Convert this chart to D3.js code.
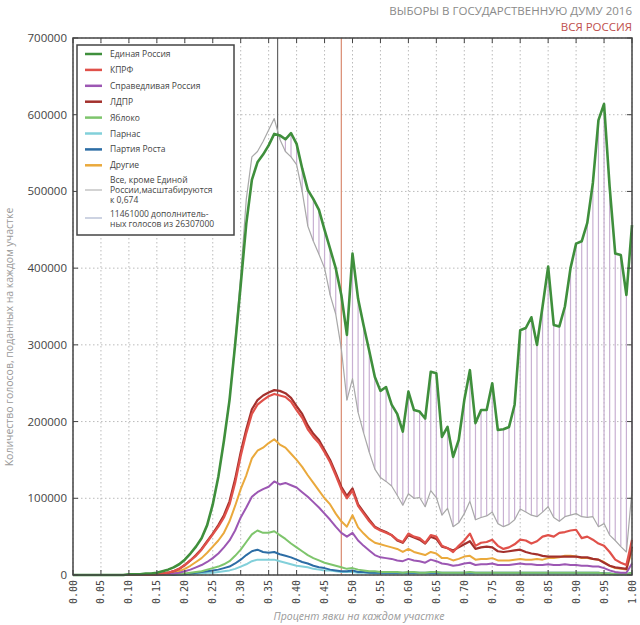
<!DOCTYPE html>
<html><head><meta charset="utf-8">
<script src="https://cdn.jsdelivr.net/npm/d3@7"></script>
<style>body{margin:0;background:#fff}svg{display:block}</style>
</head><body>
<script>
// ===== DATA (values in thousands of votes, turnout bins 0.00 .. 1.00 step 0.01) =====
const turnout = d3.range(0, 101).map(i => i / 100);
const xTickLabels = ["0.00","0.05","0.10","0.15","0.20","0.25","0.30","0.35","0.40","0.45","0.50","0.55","0.60","0.65","0.70","0.75","0.80","0.85","0.90","0.95","1.00"];
const yTickLabels = [0,100000,200000,300000,400000,500000,600000,700000];

const er = [0,0,0,0,0,0,0,0,0,0,
1,1,1,2,2,3,5,7,10,14,
20,28,37,48,65,92,128,175,228,300,
378,458,515,538,548,560,575,573,568,576,
562,530,502,490,476,450,425,400,365,313,
419,360,325,292,258,240,245,222,210,187,
239,215,213,204,265,263,180,193,154,176,
228,267,198,215,215,250,189,190,193,222,
319,322,336,300,350,402,326,324,350,400,
432,435,459,511,593,614,506,419,417,365,
456];
const scaledOthers = [0,0,0,0,0,0,0,0,0,0,
1,1,1,1,2,3,5,7,10,14,
20,28,37,48,65,92,128,175,230,305,
390,490,545,552,565,580,595,568,552,545,
535,500,455,435,418,400,365,340,295,228,
256,212,185,160,138,127,122,116,104,91,
106,100,101,89,110,101,78,87,63,68,
80,96,72,75,77,82,67,63,66,72,
86,82,78,76,82,89,75,70,76,78,
80,76,75,76,63,67,52,45,37,30,
110];
const kprf = [0,0,0,0,0,0,0,0,0,0,
0,0,0,0,0,1,2,3,5,8,
13,19,25,33,43,53,63,75,92,120,
155,185,210,222,228,233,236,234,232,226,
215,205,190,180,172,160,147,130,112,100,
110,90,80,70,62,58,55,52,46,43,
54,50,48,42,52,50,38,35,30,38,
45,54,38,42,43,46,38,34,36,40,
46,45,41,44,50,52,50,55,56,58,
59,48,50,46,41,38,30,20,16,13,
46];
const ldpr = [0,0,0,0,0,0,0,0,0,0,
0,0,0,0,0,1,2,3,5,8,
13,19,26,34,44,54,65,78,96,125,
160,190,216,228,234,238,241,240,237,231,
220,210,195,184,176,163,150,133,115,103,
113,92,82,72,63,59,56,52,45,42,
52,49,46,41,50,47,37,35,32,36,
40,44,34,36,37,36,31,30,31,32,
33,30,28,27,25,24,24,24,24,24,
24,23,23,21,20,16,12,10,9,8,
37];
const sr = [0,0,0,0,0,0,0,0,0,0,
0,0,0,0,0,0,1,1,2,3,
5,7,10,13,17,22,28,36,45,58,
75,88,102,108,112,115,122,118,120,117,
114,108,102,95,88,80,72,63,55,50,
55,45,38,32,26,23,22,21,19,18,
21,19,18,16,20,18,15,14,12,13,
15,16,13,14,14,15,13,13,13,14,
15,14,14,13,13,14,13,13,14,13,
13,12,12,11,11,9,6,4,3,3,
15];
const yabloko = [0,0,0,0,0,0,0,0,0,0,
0,0,0,0,0,0,0,0,1,1,
2,3,4,5,7,9,11,14,18,25,
33,43,53,58,55,55,57,52,47,41,
36,31,26,22,19,16,14,12,10,8,
9,7,6,5,5,4,4,4,4,3,
4,4,3,3,4,4,3,3,3,3,
3,4,3,3,3,3,3,3,3,3,
3,3,3,3,3,3,3,3,3,3,
3,3,3,3,3,2,2,1,1,1,
3];
const rost = [0,0,0,0,0,0,0,0,0,0,
0,0,0,0,0,0,0,0,0,1,
1,2,3,4,5,6,7,9,11,15,
20,26,31,33,30,29,30,27,25,23,
20,17,15,12,10,9,7,6,5,5,
6,4,4,3,3,3,3,3,3,3,
3,3,3,3,3,3,3,3,3,3,
3,3,3,3,3,3,3,3,3,3,
3,3,3,3,3,3,3,3,3,3,
3,3,3,3,3,2,2,1,1,1,
3];
const parnas = [0,0,0,0,0,0,0,0,0,0,
0,0,0,0,0,0,0,0,0,0,
1,1,2,2,3,3,4,5,6,8,
11,14,18,20,20,20,20,18,16,14,
12,11,10,8,7,6,6,5,4,4,
4,3,3,3,2,2,2,2,2,2,
2,2,2,2,2,2,2,2,2,2,
2,2,2,2,2,2,2,2,2,2,
2,2,2,2,2,2,2,2,2,2,
2,2,2,2,2,2,1,1,1,1,
2];
const markerMode = 0.366;
const markerMean = 0.48;

const partyNames = ["Единая Россия","КПРФ","Справедливая Россия","ЛДПР","Яблоко","Парнас","Партия Роста","Другие"];
const others = [0,0,0,0,0,0,0,0,0,0,
0,0,0,0,0,1,1,2,3,5,
8,12,17,22,29,37,45,55,70,90,
112,130,152,162,166,172,177,170,166,158,
150,141,130,120,110,100,92,80,70,63,
78,62,54,47,42,40,38,36,34,30,
34,30,28,26,30,28,22,22,19,21,
24,25,20,21,21,22,19,19,19,20,
21,20,20,21,20,22,22,23,25,25,
24,22,22,21,20,17,12,9,8,7,
33];

// ===== STYLE =====
const colors = {
  er:"#3f8f3c", kprf:"#e0514a", sr:"#9c57b3", ldpr:"#a3302c",
  yabloko:"#7ec56c", parnas:"#82d0da", rost:"#2c6da5", others:"#eaa93c",
  gray:"#a8a8a8", hatch:"#c8b0d2"
};

const W = 640, H = 625;
const svg = d3.select("body").append("svg").attr("width", W).attr("height", H)
  .style("font-family", "'Open Sans','Noto Sans',sans-serif");

const x = d3.scaleLinear().domain([0, 1]).range([73, 632]);
const y = d3.scaleLinear().domain([0, 700000]).range([575, 38]);

// grid
const g = svg.append("g");
g.selectAll(".gx").data(xTickLabels).enter().append("line")
  .attr("x1", d => x(+d)).attr("x2", d => x(+d)).attr("y1", 38).attr("y2", 575)
  .attr("stroke", "#bbb").attr("stroke-width", 1).attr("stroke-dasharray", "1.5,2.5");
g.selectAll(".gy").data(yTickLabels).enter().append("line")
  .attr("x1", 73).attr("x2", 632).attr("y1", d => y(d)).attr("y2", d => y(d))
  .attr("stroke", "#bbb").attr("stroke-width", 1).attr("stroke-dasharray", "1.5,2.5");

// hatching between scaled others and ER
const hatchIdx = turnout.map((t, i) => i).filter(i => er[i] > scaledOthers[i] && turnout[i] > markerMode);
g.selectAll(".hatch").data(hatchIdx).enter().append("line")
  .attr("x1", i => x(turnout[i])).attr("x2", i => x(turnout[i]))
  .attr("y1", i => y(scaledOthers[i] * 1000)).attr("y2", i => y(er[i] * 1000))
  .attr("stroke", colors.hatch).attr("stroke-width", 1.2);

// marker lines
g.append("line").attr("x1", x(markerMode)).attr("x2", x(markerMode)).attr("y1", 38).attr("y2", 575)
  .attr("stroke", "#666").attr("stroke-width", 1.2);
g.append("line").attr("x1", x(markerMean)).attr("x2", x(markerMean)).attr("y1", 38).attr("y2", 575)
  .attr("stroke", "#d98a70").attr("stroke-width", 1.2);

const line = d3.line().x((d, i) => x(turnout[i])).y(d => y(d * 1000));

const series = [
  {v: scaledOthers, c: colors.gray, w: 1.2},
  {v: parnas, c: colors.parnas, w: 2},
  {v: rost, c: colors.rost, w: 2},
  {v: yabloko, c: colors.yabloko, w: 2},
  {v: others, c: colors.others, w: 2},
  {v: sr, c: colors.sr, w: 2},
  {v: ldpr, c: colors.ldpr, w: 2.2},
  {v: kprf, c: colors.kprf, w: 2.2},
  {v: er, c: colors.er, w: 2.6}
];
series.forEach(s => {
  g.append("path").datum(s.v).attr("d", line).attr("fill", "none")
    .attr("stroke", s.c).attr("stroke-width", s.w).attr("stroke-linejoin", "round");
});

// frame
svg.append("rect").attr("x", 73).attr("y", 38).attr("width", 559).attr("height", 537)
  .attr("fill", "none").attr("stroke", "#444").attr("stroke-width", 1.5);

// ticks (inward, all sides)
xTickLabels.forEach(t => {
  const xx = x(+t);
  svg.append("line").attr("x1", xx).attr("x2", xx).attr("y1", 575).attr("y2", 570).attr("stroke", "#444");
  svg.append("line").attr("x1", xx).attr("x2", xx).attr("y1", 38).attr("y2", 43).attr("stroke", "#444");
});
yTickLabels.forEach(t => {
  const yy = y(t);
  svg.append("line").attr("x1", 73).attr("x2", 78).attr("y1", yy).attr("y2", yy).attr("stroke", "#444");
  svg.append("line").attr("x1", 627).attr("x2", 632).attr("y1", yy).attr("y2", yy).attr("stroke", "#444");
});

// y tick labels
svg.selectAll(".yl").data(yTickLabels).enter().append("text")
  .attr("x", 67).attr("y", d => y(d) + 4).attr("text-anchor", "end")
  .attr("font-size", 11.5).attr("fill", "#444").text(d => d);

// x tick labels rotated
svg.selectAll(".xl").data(xTickLabels).enter().append("text")
  .attr("transform", d => `translate(${x(+d) + 3.5},580) rotate(-90)`)
  .attr("text-anchor", "end").attr("font-family", "'DejaVu Sans Mono',monospace")
  .attr("font-size", 10).attr("fill", "#444").text(d => d);

// axis titles
svg.append("text").attr("x", 359).attr("y", 620).attr("text-anchor", "middle")
  .attr("font-size", 10.5).attr("font-style", "italic").attr("fill", "#999")
  .text("Процент явки на каждом участке");
svg.append("text").attr("transform", "translate(13,337) rotate(-90)").attr("text-anchor", "middle")
  .attr("font-size", 10.5).attr("fill", "#999")
  .text("Количество голосов, поданных на каждом участке");

// title
svg.append("text").attr("x", 632).attr("y", 15).attr("text-anchor", "end")
  .attr("font-size", 11.5).attr("fill", "#8a8a8a").text("ВЫБОРЫ В ГОСУДАРСТВЕННУЮ ДУМУ 2016");
svg.append("text").attr("x", 632).attr("y", 31).attr("text-anchor", "end")
  .attr("font-size", 11.5).attr("fill", "#c0504d").text("ВСЯ РОССИЯ");

// legend
const lg = svg.append("g");
lg.append("rect").attr("x", 77).attr("y", 45).attr("width", 157).attr("height", 190)
  .attr("fill", "#fff").attr("stroke", "#444").attr("stroke-width", 1.5);
const legColors = [colors.er, colors.kprf, colors.sr, colors.ldpr, colors.yabloko, colors.parnas, colors.rost, colors.others];
partyNames.forEach((n, i) => {
  const yy = 54 + i * 15.9;
  lg.append("line").attr("x1", 85).attr("x2", 102).attr("y1", yy).attr("y2", yy)
    .attr("stroke", legColors[i]).attr("stroke-width", 2.5);
  lg.append("text").attr("x", 110).attr("y", yy + 3).attr("font-size", 8.5).attr("fill", "#444").text(n);
});
lg.append("line").attr("x1", 85).attr("x2", 102).attr("y1", 190).attr("y2", 190)
  .attr("stroke", "#c4c4c4").attr("stroke-width", 1.5);
["Все, кроме Единой", "России,масштабируются", "к 0,674"].forEach((t, i) => {
  lg.append("text").attr("x", 110).attr("y", 183 + i * 10).attr("font-size", 8.5).attr("fill", "#444").text(t);
});
lg.append("line").attr("x1", 85).attr("x2", 102).attr("y1", 218).attr("y2", 218)
  .attr("stroke", "#bcc4d8").attr("stroke-width", 1.5);
["11461000 дополнитель-", "ных голосов из 26307000"].forEach((t, i) => {
  lg.append("text").attr("x", 110).attr("y", 217 + i * 10).attr("font-size", 8.5).attr("fill", "#444").text(t);
});
</script>
</body></html>
